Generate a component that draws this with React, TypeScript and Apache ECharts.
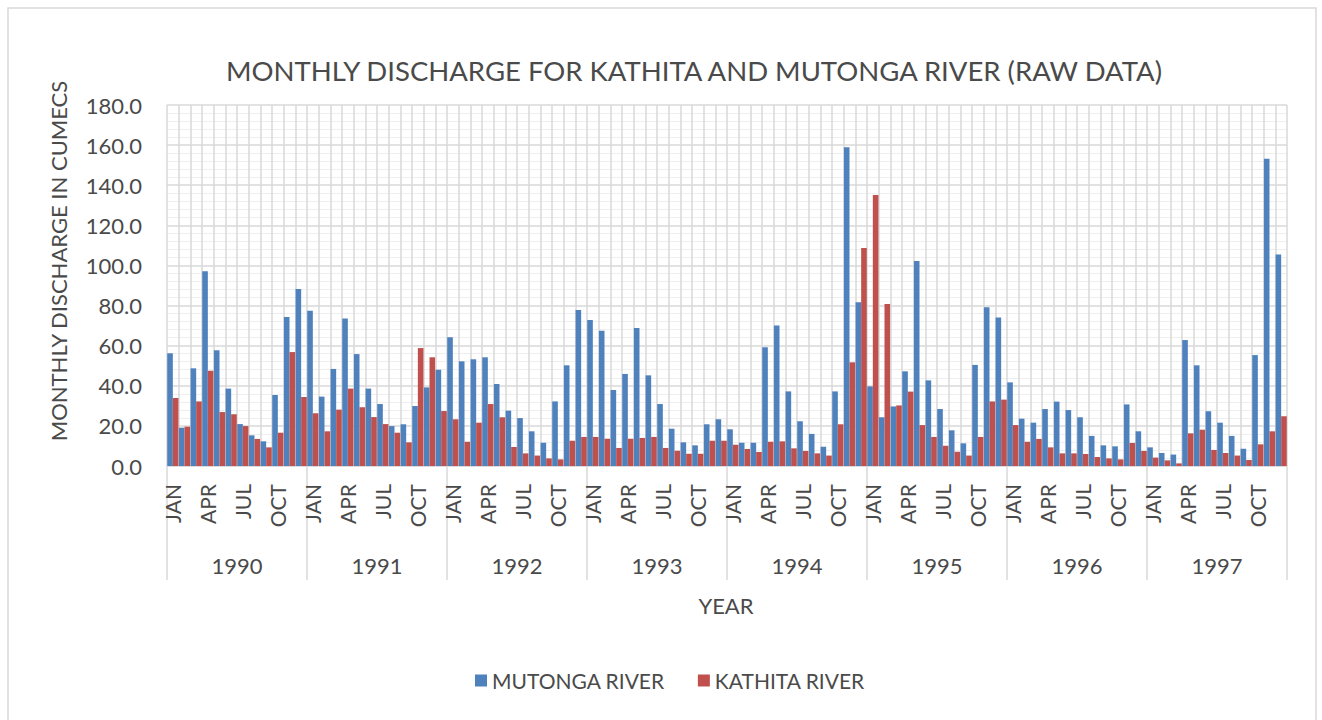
import React, { useEffect, useRef } from "react";
import * as echarts from "echarts";

const years = ["1990", "1991", "1992", "1993", "1994", "1995", "1996", "1997"];
const months = ["JAN", "FEB", "MAR", "APR", "MAY", "JUN", "JUL", "AUG", "SEP", "OCT", "NOV", "DEC"];

const mutonga = [
  56.2, 19.1, 48.7, 97.1, 57.7, 38.6, 20.9, 15.3, 12.3, 35.4, 74.3, 88.3,
  77.4, 34.6, 48.4, 73.5, 55.8, 38.6, 30.9, 19.9, 20.8, 29.9, 39.2, 48.0,
  64.2, 52.2, 53.2, 54.2, 40.9, 27.6, 23.9, 17.3, 11.6, 32.2, 50.2, 77.8,
  72.8, 67.5, 37.9, 45.9, 68.8, 45.2, 30.9, 18.6, 11.8, 10.3, 20.8, 23.3,
  18.3, 11.6, 11.6, 59.2, 70.1, 37.2, 22.3, 16.0, 9.6, 37.2, 158.9, 81.6,
  39.7, 24.3, 29.7, 47.2, 102.2, 42.7, 28.4, 17.8, 11.3, 50.4, 79.1, 74.0,
  41.7, 23.6, 21.6, 28.4, 32.1, 27.9, 24.3, 15.0, 10.3, 9.8, 30.7, 17.3,
  9.3, 6.5, 5.7, 62.8, 50.2, 27.3, 21.6, 15.0, 8.6, 55.3, 153.2, 105.5,
];

const kathita = [
  33.9, 19.6, 32.2, 47.5, 26.9, 25.8, 19.9, 13.5, 9.3, 16.6, 56.8, 34.4,
  26.3, 17.3, 28.1, 38.6, 29.3, 24.4, 20.9, 16.6, 11.8, 58.8, 54.2, 27.4,
  23.3, 12.1, 21.6, 30.9, 24.3, 9.5, 6.3, 5.2, 3.8, 3.3, 12.6, 14.5,
  14.5, 13.6, 9.0, 13.6, 14.0, 14.5, 9.0, 7.6, 6.1, 6.1, 12.6, 12.6,
  10.6, 8.5, 7.0, 12.1, 12.3, 8.8, 7.5, 6.3, 5.2, 20.8, 51.7, 108.7,
  135.1, 80.8, 30.2, 37.1, 20.4, 14.5, 10.1, 7.1, 5.2, 14.5, 32.2, 33.1,
  20.4, 12.1, 13.5, 9.3, 6.3, 6.3, 6.0, 4.5, 3.8, 3.3, 11.5, 7.5,
  4.2, 2.8, 1.3, 16.3, 18.1, 8.0, 6.5, 5.2, 3.0, 10.8, 17.3, 24.8,
];

const FONT = "Lato";
const TEXT = "#4a4a4a";
const GRID = "#d9d9d9";

export default function App() {
  const ref = useRef<HTMLDivElement>(null);

  useEffect(() => {
    if (!ref.current) return;
    const chart = echarts.init(ref.current, null, { renderer: "svg" });
    const categories = years.flatMap((y) => months.map((m) => `${m} ${y}`));

    chart.setOption({
      animation: false,
      textStyle: { fontFamily: FONT },
      grid: { left: 167, right: 35, top: 105, bottom: 254, containLabel: false },
      graphic: [
        {
          type: "rect",
          shape: { x: 8, y: 8, width: 1308, height: 730 },
          style: { fill: "none", stroke: GRID, lineWidth: 1.5 },
          silent: true,
        },
        {
          type: "text",
          x: 694,
          y: 70,
          style: {
            text: "MONTHLY DISCHARGE FOR KATHITA AND MUTONGA RIVER (RAW DATA)",
            fontFamily: FONT,
            fontSize: 27.5,
            fill: TEXT,
            align: "center",
            verticalAlign: "middle",
          },
        },
        {
          type: "text",
          x: 58,
          y: 261,
          rotation: Math.PI / 2,
          style: {
            text: "MONTHLY DISCHARGE IN CUMECS",
            fontFamily: FONT,
            fontSize: 22,
            fill: TEXT,
            align: "center",
            verticalAlign: "middle",
          },
        },
        {
          type: "text",
          x: 726,
          y: 605,
          style: {
            text: "YEAR",
            fontFamily: FONT,
            fontSize: 22,
            fill: TEXT,
            align: "center",
            verticalAlign: "middle",
          },
        },
      ],
      legend: {
        data: ["MUTONGA RIVER", "KATHITA RIVER"],
        left: 470,
        top: 665,
        icon: "rect",
        itemWidth: 12,
        itemHeight: 12,
        itemGap: 33,
        textStyle: { fontFamily: FONT, fontSize: 21, color: TEXT },
      },
      xAxis: [
        {
          type: "category",
          data: categories,
          axisLine: { lineStyle: { color: GRID, width: 1.5 } },
          axisTick: { show: false },
          axisLabel: {
            interval: 2,
            rotate: 90,
            margin: 18,
            fontSize: 21,
            color: TEXT,
            fontFamily: FONT,
            formatter: (v: string) => v.split(" ")[0],
          },
          splitLine: { show: true, interval: 0, lineStyle: { color: GRID, width: 1.5 } },
        },
        {
          type: "category",
          data: years,
          position: "bottom",
          axisLine: { show: false },
          axisTick: { show: true, length: 114, lineStyle: { color: GRID, width: 1.5 } },
          axisLabel: { margin: 88, fontSize: 22, color: TEXT, fontFamily: FONT },
          splitLine: { show: false },
        },
      ],
      yAxis: {
        type: "value",
        min: 0,
        max: 180,
        interval: 20,
        axisLine: { show: false },
        axisTick: { show: false },
        axisLabel: {
          formatter: (v: number) => v.toFixed(1),
          fontSize: 22,
          color: TEXT,
          margin: 25,
          fontFamily: FONT,
        },
        splitLine: { lineStyle: { color: GRID, width: 1.5 } },
        minorTick: { show: false, splitNumber: 5 },
        minorSplitLine: { show: true, lineStyle: { color: "#eeeeee", width: 1 } },
      },
      series: [
        {
          name: "MUTONGA RIVER",
          type: "bar",
          data: mutonga,
          itemStyle: { color: "#4f81bd" },
          barGap: "0%",
          barCategoryGap: "4%",
        },
        {
          name: "KATHITA RIVER",
          type: "bar",
          data: kathita,
          itemStyle: { color: "#c0504d" },
          barGap: "0%",
          barCategoryGap: "4%",
        },
      ],
    });

    return () => chart.dispose();
  }, []);

  return (
    <div
      ref={ref}
      style={{ position: "absolute", left: 0, top: 0, width: 1322, height: 720, background: "#fff" }}
    />
  );
}
